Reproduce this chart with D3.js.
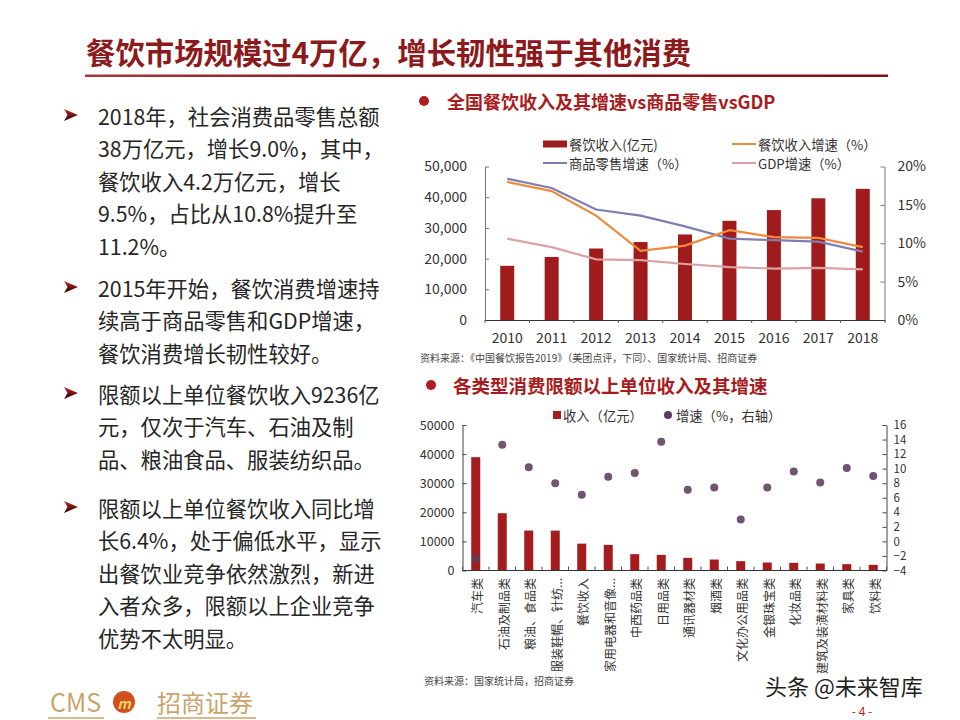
<!DOCTYPE html>
<html><head><meta charset="utf-8">
<script src="https://cdn.jsdelivr.net/npm/d3@7"></script>
<style>
body{margin:0;background:#fff}
svg{display:block}
text{font-family:"Noto Sans CJK SC","Noto Sans",sans-serif}
</style>
</head><body>
<svg id="c" width="960" height="720"></svg>
<script>
// ---------- data ----------
const pageTitle = "餐饮市场规模过4万亿，增长韧性强于其他消费";
const paragraphs = [
  ["2018年，社会消费品零售总额", "38万亿元，增长9.0%，其中，", "餐饮收入4.2万亿元，增长", "9.5%，占比从10.8%提升至", "11.2%。"],
  ["2015年开始，餐饮消费增速持", "续高于商品零售和GDP增速，", "餐饮消费增长韧性较好。"],
  ["限额以上单位餐饮收入9236亿", "元，仅次于汽车、石油及制", "品、粮油食品、服装纺织品。"],
  ["限额以上单位餐饮收入同比增", "长6.4%，处于偏低水平，显示", "出餐饮业竞争依然激烈，新进", "入者众多，限额以上企业竞争", "优势不太明显。"]
];

const chart1Title = "全国餐饮收入及其增速vs商品零售vsGDP";
const years = ["2010","2011","2012","2013","2014","2015","2016","2017","2018"];
const cateringRevenue = [17648, 20543, 23283, 25392, 27860, 32310, 35799, 39644, 42716];
const cateringGrowth = [18.0, 16.8, 13.6, 9.0, 9.7, 11.7, 10.8, 10.7, 9.5];
const retailGrowth = [18.4, 17.2, 14.4, 13.6, 12.2, 10.6, 10.4, 10.2, 8.9];
const gdpGrowth = [10.6, 9.5, 7.9, 7.8, 7.3, 6.9, 6.7, 6.8, 6.6];
const chart1LeftTicks = [0, 10000, 20000, 30000, 40000, 50000];
const chart1RightTicks = [0, 5, 10, 15, 20];
const chart1Legend = ["餐饮收入(亿元)", "餐饮收入增速（%）", "商品零售增速（%）", "GDP增速（%）"];
const chart1Source = "资料来源：《中国餐饮报告2019》（美团点评，下同）、国家统计局、招商证券";

const chart2Title = "各类型消费限额以上单位收入及其增速";
const categories = ["汽车类","石油及制品类","粮油、食品类","服装鞋帽、针纺织品类","餐饮收入","家用电器和音像器材类","中西药品类","日用品类","通讯器材类","烟酒类","文化办公用品类","金银珠宝类","化妆品类","建筑及装潢材料类","家具类","饮料类"];
const categoryLabels = ["汽车类","石油及制品类","粮油、食品类","服装鞋帽、针纺...","餐饮收入","家用电器和音像...","中西药品类","日用品类","通讯器材类","烟酒类","文化办公用品类","金银珠宝类","化妆品类","建筑及装潢材料类","家具类","饮料类"];
const categoryRevenue = [38948, 19680, 13730, 13707, 9236, 8810, 5606, 5378, 4348, 3776, 3204, 2746, 2632, 2403, 2174, 1945];
const categoryGrowth = [-2.4, 13.3, 10.2, 8.0, 6.4, 8.9, 9.4, 13.7, 7.1, 7.4, 3.0, 7.4, 9.6, 8.1, 10.1, 9.0];
const chart2LeftTicks = [0, 10000, 20000, 30000, 40000, 50000];
const chart2RightTicks = [-4, -2, 0, 2, 4, 6, 8, 10, 12, 14, 16];
const chart2Legend = ["收入（亿元）", "增速（%，右轴）"];
const chart2Source = "资料来源：国家统计局，招商证券";

// ---------- drawing ----------
const svg = d3.select("#c");
const RED = "#a01b1b";
svg.append("rect").attr("width",960).attr("height",720).attr("fill","#fff");
const defs = svg.append("defs");

// Page title
svg.append("text").attr("x",86).attr("y",51).attr("dominant-baseline","central")
  .attr("font-size",29.4).attr("font-weight","bold").attr("fill","#8c1a1c").text(pageTitle);
const grad = defs.append("linearGradient").attr("id","ul");
grad.append("stop").attr("offset","0").attr("stop-color","#a8383a");
grad.append("stop").attr("offset","0.35").attr("stop-color","#8c1a1c");
grad.append("stop").attr("offset","1").attr("stop-color","#7a1416");
svg.append("rect").attr("x",85).attr("y",74.5).attr("width",803).attr("height",2.5).attr("fill","url(#ul)");

// arrow bullet gradient
const ag = defs.append("linearGradient").attr("id","arw").attr("x1","0").attr("y1","0").attr("x2","0").attr("y2","1");
ag.append("stop").attr("offset","0").attr("stop-color","#c0392b");
ag.append("stop").attr("offset","0.5").attr("stop-color","#7a1010");
ag.append("stop").attr("offset","1").attr("stop-color","#1a0a0a");

// Left text
const paraStarts = [115, 287, 393, 507];
const lh = 32.5;
paragraphs.forEach((p,i)=>{
  const cy = paraStarts[i];
  svg.append("path").attr("d",`M64,${cy-6} L78,${cy} L64,${cy+6} L67.5,${cy} Z`).attr("fill","url(#arw)");
  p.forEach((line,j)=>{
    svg.append("text").attr("x",98).attr("y",cy+j*lh).attr("dominant-baseline","central")
      .attr("font-size",21.3).attr("fill","#262626").text(line);
  });
});

// ===== Chart 1 =====
svg.append("circle").attr("cx",424).attr("cy",101).attr("r",5).attr("fill","#b01c1f");
svg.append("text").attr("x",447).attr("y",101).attr("dominant-baseline","central")
  .attr("font-size",18).attr("font-weight","bold").attr("fill","#a81c20").text(chart1Title);

const x1 = d3.scaleBand().domain(years).range([485, 885]).padding(0);
const y1L = d3.scaleLinear().domain([0,50000]).range([320,166.5]);
const y1R = d3.scaleLinear().domain([0,20]).range([320,166.5]);

const g1 = svg.append("g");
g1.selectAll("rect.bar").data(years).enter().append("rect")
  .attr("x",d=>x1(d)+x1.bandwidth()/2-7).attr("width",14)
  .attr("y",(d,i)=>y1L(cateringRevenue[i])).attr("height",(d,i)=>y1L(0)-y1L(cateringRevenue[i]))
  .attr("fill",RED);

const line1 = d3.line().x((d,i)=>x1(years[i])+x1.bandwidth()/2).y(d=>y1R(d));
[[gdpGrowth,"#dca2a3"],[retailGrowth,"#7d7fb3"],[cateringGrowth,"#ee8a3c"]].forEach(([arr,col])=>{
  g1.append("path").datum(arr).attr("d",line1).attr("fill","none").attr("stroke",col).attr("stroke-width",2.2);
});

// axes
const ax1L = g1.append("g").attr("transform","translate(485,0)")
  .call(d3.axisLeft(y1L).tickValues(chart1LeftTicks).tickFormat(d3.format(",")).tickSizeInner(-4).tickSizeOuter(0).tickPadding(18));
const ax1R = g1.append("g").attr("transform","translate(884.5,0)")
  .call(d3.axisRight(y1R).tickValues(chart1RightTicks).tickFormat(d=>d+"%").tickSizeInner(-4).tickSizeOuter(0).tickPadding(13));
const ax1B = g1.append("g").attr("transform","translate(0,320)")
  .call(d3.axisBottom(x1).tickSize(0).tickPadding(13));
ax1B.select(".domain").attr("stroke","#333");
g1.selectAll("line.bt").data(d3.range(years.length+1)).enter().append("line")
  .attr("x1",i=>485+i*x1.step()).attr("x2",i=>485+i*x1.step()).attr("y1",320).attr("y2",323).attr("stroke","#555");
[ax1L,ax1R,ax1B].forEach(a=>{
  a.selectAll("text").attr("font-size",14).attr("fill","#333").attr("font-family","\"Noto Sans CJK SC\",sans-serif");
});
[ax1L,ax1R].forEach(a=>{a.select(".domain").attr("stroke","#777");a.selectAll(".tick line").attr("stroke","#777");});

// legend 1
const leg1 = [
  {t:chart1Legend[0], x:543, y:144, type:"rect", c:RED},
  {t:chart1Legend[1], x:732, y:144, type:"line", c:"#ee8a3c"},
  {t:chart1Legend[2], x:543, y:163, type:"line", c:"#7d7fb3"},
  {t:chart1Legend[3], x:732, y:163, type:"line", c:"#dca2a3"}
];
leg1.forEach(l=>{
  if(l.type==="rect") svg.append("rect").attr("x",l.x).attr("y",l.y-3.5).attr("width",24).attr("height",7).attr("fill",l.c);
  else svg.append("line").attr("x1",l.x).attr("x2",l.x+24).attr("y1",l.y).attr("y2",l.y).attr("stroke",l.c).attr("stroke-width",2);
  svg.append("text").attr("x",l.x+26).attr("y",l.y).attr("dominant-baseline","central")
    .attr("font-size",13.3).attr("fill","#333").text(l.t);
});

svg.append("text").attr("x",420).attr("y",357).attr("dominant-baseline","central")
  .attr("font-size",10).attr("fill","#444").text(chart1Source);

// ===== Chart 2 =====
svg.append("circle").attr("cx",431).attr("cy",385).attr("r",5).attr("fill","#b01c1f");
svg.append("text").attr("x",453).attr("y",385).attr("dominant-baseline","central")
  .attr("font-size",18.5).attr("font-weight","bold").attr("fill","#a81c20").text(chart2Title);

const x2 = d3.scaleBand().domain(categories).range([462.5, 886.5]).padding(0);
const y2L = d3.scaleLinear().domain([0,50000]).range([570.5,425]);
const y2R = d3.scaleLinear().domain([-4,16]).range([570.5,425]);
const g2 = svg.append("g");

g2.selectAll("rect.bar").data(categories).enter().append("rect")
  .attr("x",d=>x2(d)+x2.bandwidth()/2-4.5).attr("width",9)
  .attr("y",(d,i)=>y2L(categoryRevenue[i])).attr("height",(d,i)=>y2L(0)-y2L(categoryRevenue[i]))
  .attr("fill","#a51c1f");
g2.selectAll("circle.pt").data(categories).enter().append("circle")
  .attr("cx",d=>x2(d)+x2.bandwidth()/2).attr("cy",(d,i)=>y2R(categoryGrowth[i])).attr("r",4)
  .attr("fill","#5c3c5c").attr("fill-opacity",0.88);

const ax2L = g2.append("g").attr("transform","translate(462.5,0)")
  .call(d3.axisLeft(y2L).tickValues(chart2LeftTicks).tickSizeInner(-4).tickSizeOuter(0).tickPadding(8).tickFormat(d3.format("d")));
const ax2R = g2.append("g").attr("transform","translate(886.5,0)")
  .call(d3.axisRight(y2R).tickValues(chart2RightTicks).tickSizeInner(-4).tickSizeOuter(0).tickPadding(7).tickFormat(d3.format("d")));
g2.append("line").attr("x1",462.5).attr("x2",886.5).attr("y1",570.5).attr("y2",570.5).attr("stroke","#333");
g2.selectAll("line.bt").data(d3.range(categories.length+1)).enter().append("line")
  .attr("x1",i=>462.5+i*x2.step()).attr("x2",i=>462.5+i*x2.step()).attr("y1",570.5).attr("y2",566.5).attr("stroke","#555");
[ax2L,ax2R].forEach(a=>{
  a.select(".domain").attr("stroke","#444");a.selectAll(".tick line").attr("stroke","#444");
  a.selectAll("text").attr("fill","#333").attr("font-family","\"Liberation Sans\",Arial,sans-serif");
});
ax2L.selectAll("text").attr("font-size",12.5);
ax2R.selectAll("text").attr("font-size",11.5);
g2.selectAll("text.xl").data(categories).enter().append("text")
  .attr("transform",d=>`translate(${x2(d)+x2.bandwidth()/2+1},578) rotate(-90)`)
  .attr("text-anchor","end").attr("dominant-baseline","central")
  .attr("font-size",12).attr("fill","#333").text((d,i)=>categoryLabels[i]);

// legend 2
svg.append("rect").attr("x",553).attr("y",411).attr("width",8).attr("height",8).attr("fill","#a51c1f");
svg.append("text").attr("x",563).attr("y",415).attr("dominant-baseline","central").attr("font-size",13.3).attr("fill","#333").text(chart2Legend[0]);
svg.append("circle").attr("cx",668).attr("cy",415).attr("r",4).attr("fill","#5c3c5c");
svg.append("text").attr("x",676).attr("y",415).attr("dominant-baseline","central").attr("font-size",13.3).attr("fill","#333").text(chart2Legend[1]);

svg.append("text").attr("x",424).attr("y",680).attr("dominant-baseline","central")
  .attr("font-size",10).attr("fill","#444").text(chart2Source);

// ===== Footer =====
svg.append("text").attr("x",50).attr("y",712).attr("font-size",25).attr("font-family","\"Liberation Sans Narrow\",\"Open Sans\",sans-serif")
  .attr("fill","#c9a46c").text("CMS");
svg.append("circle").attr("cx",124).attr("cy",702).attr("r",11).attr("fill","#d2501e");
svg.append("text").attr("x",124).attr("y",703).attr("text-anchor","middle").attr("dominant-baseline","central")
  .attr("font-size",14).attr("font-weight","bold").attr("font-style","italic").attr("fill","#f6d36b").text("m");
svg.append("text").attr("x",157).attr("y",712).attr("font-size",24).attr("fill","#c9a46c").text("招商证券");
svg.append("line").attr("x1",48).attr("x2",104).attr("y1",718).attr("y2",718).attr("stroke","#c9a46c").attr("stroke-width",1.5);
svg.append("line").attr("x1",157).attr("x2",256).attr("y1",718).attr("y2",718).attr("stroke","#c9a46c").attr("stroke-width",1.5);

svg.append("text").attr("x",765).attr("y",695).attr("font-size",22).attr("fill","#222").text("头条 @未来智库");
svg.append("text").attr("x",862).attr("y",710).attr("text-anchor","middle").attr("dominant-baseline","central")
  .attr("font-size",12).attr("fill","#b01c1f").text("- 4 -");
</script>
</body></html>
